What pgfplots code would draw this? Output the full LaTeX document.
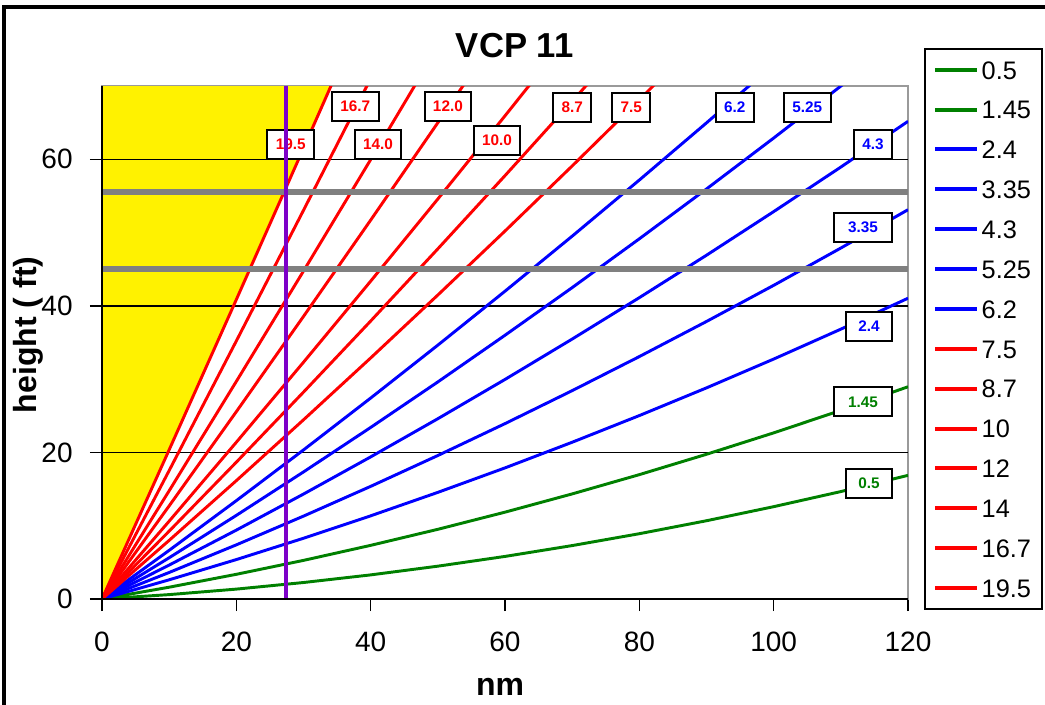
\documentclass[border=0pt]{standalone}
\usepackage{fontspec}
\setmainfont{Liberation Sans}
\usepackage{pgfplots}
\pgfplotsset{compat=1.18}
\definecolor{xlgreen}{RGB}{0,128,0}
\definecolor{xlblue}{RGB}{0,0,255}
\definecolor{xlred}{RGB}{255,0,0}
\definecolor{xlpurple}{RGB}{125,0,200}
\definecolor{xlgray}{RGB}{128,128,128}
\pgfplotsset{
  vcp/.style={line width=2.2pt, no markers, line join=round},
}
\tikzset{
  lbl/.style={draw=black, line width=1.5pt, fill=white, font=\fontsize{11.5}{12}\selectfont\bfseries, minimum width=35pt, minimum height=21.75pt, inner sep=1pt},
}
\begin{document}
\begin{tikzpicture}
\begin{axis}[
  scale only axis, width=604.5pt, height=384.75pt,
  at={(0pt,0pt)}, anchor=south west,
  xmin=0, xmax=120, ymin=0, ymax=70,
  xtick={0,20,...,120}, ytick={0,20,40,60},
  axis line style={xlgray!80, line width=1.2pt},
  xtick pos=bottom, ytick pos=left,
  tick align=outside, major tick length=9pt,
  tick style={black, line width=1.1pt},
  /pgf/number format/assume math mode=true,
  ticklabel style={font=\fontsize{21}{24}\selectfont},
  xticklabel style={yshift=-12pt},
  yticklabel style={xshift=-9.5pt},
  title={VCP 11},
  title style={font=\fontsize{26}{30}\selectfont\bfseries, at={(axis description cs:0.512,1.064)}, anchor=center},
  xlabel={nm},
  xlabel style={font=\fontsize{24}{28}\selectfont\bfseries, at={(axis description cs:0.494,-0.1715)}, anchor=center},
  ylabel={height ( ft)},
  ylabel style={font=\fontsize{24}{28}\selectfont\bfseries, at={(axis description cs:-0.091,0.515)}, anchor=center},
  legend style={at={(axis description cs:1.0199,1.074)}, anchor=north west, draw=black, line width=1.5pt, fill=white,
    font=\fontsize{19}{19}\selectfont, inner xsep=6pt, inner ysep=8.5pt, row sep=15.9pt,
    nodes={inner xsep=2pt, inner ysep=0pt, text height=14pt, text depth=0pt}, cells={anchor=west}},
  legend image code/.code={\draw[#1, line width=3pt] (0pt,0pt) -- (31.5pt,0pt);},
]
% yellow region left of the 19.5 deg beam
\addplot[fill=yellow, draw=none, forget plot] coordinates {
  (0,0) (10,20.36) (20,40.86) (30,61.50) (34.1,70) (0,70)};
% horizontal gridlines
\addplot[black, line width=1pt, forget plot] coordinates {(0,20) (120,20)};
\addplot[black, line width=1pt, forget plot] coordinates {(0,40) (120,40)};
\addplot[black, line width=1pt, forget plot] coordinates {(0,60) (120,60)};

\addplot[vcp, xlgreen] coordinates {(0,0) (10,0.60) (20,1.35) (30,2.25) (40,3.29) (50,4.48) (60,5.81) (70,7.29) (80,8.91) (90,10.68) (100,12.60) (110,14.66) (120,16.87)};
\addlegendentry{0.5}
\addplot[vcp, xlgreen] coordinates {(0,0) (10,1.61) (20,3.37) (30,5.27) (40,7.32) (50,9.51) (60,11.85) (70,14.34) (80,16.97) (90,19.75) (100,22.67) (110,25.74) (120,28.96)};
\addlegendentry{1.45}
\addplot[vcp, xlblue] coordinates {(0,0) (10,2.62) (20,5.38) (30,8.29) (40,11.35) (50,14.55) (60,17.89) (70,21.39) (80,25.03) (90,28.81) (100,32.74) (110,36.82) (120,41.04)};
\addlegendentry{2.4}
\addplot[vcp, xlblue] coordinates {(0,0) (10,3.62) (20,7.39) (30,11.31) (40,15.37) (50,19.58) (60,23.93) (70,28.43) (80,33.08) (90,37.87) (100,42.80) (110,47.89) (120,53.12)};
\addlegendentry{3.35}
\addplot[vcp, xlblue] coordinates {(0,0) (10,4.63) (20,9.40) (30,14.32) (40,19.39) (50,24.60) (60,29.96) (70,35.47) (80,41.12) (90,46.91) (100,52.86) (110,58.94) (120,65.18)};
\addlegendentry{4.3}
\addplot[vcp, xlblue] coordinates {(0,0) (10,5.63) (20,11.41) (30,17.34) (40,23.41) (50,29.62) (60,35.99) (70,42.49) (80,49.15) (90,55.95) (100,62.90) (110,69.99) (120,77.23)};
\addlegendentry{5.25}
\addplot[vcp, xlblue] coordinates {(0,0) (10,6.64) (20,13.42) (30,20.34) (40,27.42) (50,34.64) (60,42.00) (70,49.51) (80,57.17) (90,64.97) (100,72.92)};
\addlegendentry{6.2}
\addplot[vcp, xlred] coordinates {(0,0) (10,8.00) (20,16.15) (30,24.45) (40,32.89) (50,41.48) (60,50.21) (70,59.09) (80,68.12) (90,77.29)};
\addlegendentry{7.5}
\addplot[vcp, xlred] coordinates {(0,0) (10,9.26) (20,18.67) (30,28.23) (40,37.93) (50,47.78) (60,57.77) (70,67.91) (80,78.20)};
\addlegendentry{8.7}
\addplot[vcp, xlred] coordinates {(0,0) (10,10.62) (20,21.39) (30,32.31) (40,43.37) (50,54.58) (60,65.93) (70,77.43)};
\addlegendentry{10}
\addplot[vcp, xlred] coordinates {(0,0) (10,12.71) (20,25.56) (30,38.56) (40,51.70) (50,64.99) (60,78.42)};
\addlegendentry{12}
\addplot[vcp, xlred] coordinates {(0,0) (10,14.77) (20,29.69) (30,44.75) (40,59.96) (50,75.32)};
\addlegendentry{14}
\addplot[vcp, xlred] coordinates {(0,0) (10,17.53) (20,35.21) (30,53.04) (40,71.01)};
\addlegendentry{16.7}
\addplot[vcp, xlred] coordinates {(0,0) (10,20.36) (20,40.86) (30,61.50) (40,82.30)};
\addlegendentry{19.5}

% gray reference levels
\addplot[xlgray, line width=4.5pt, forget plot] coordinates {(0,45) (120,45)};
\addplot[xlgray, line width=4.5pt, forget plot] coordinates {(0,55.5) (120,55.5)};

% data labels
\node[lbl, text=xlred] at (axis cs:28.1,62.0) {19.5};
\node[lbl, text=xlred] at (axis cs:37.7,67.2) {16.7};
\node[lbl, text=xlred] at (axis cs:41.1,62.0) {14.0};
\node[lbl, text=xlred] at (axis cs:51.5,67.2) {12.0};
\node[lbl, text=xlred] at (axis cs:58.8,62.6) {10.0};
\node[lbl, text=xlred, minimum width=28.5pt] at (axis cs:70.0,67.1) {8.7};
\node[lbl, text=xlred, minimum width=28.5pt] at (axis cs:78.8,67.1) {7.5};
\node[lbl, text=xlblue, minimum width=28.5pt] at (axis cs:94.2,67.1) {6.2};
\node[lbl, text=xlblue] at (axis cs:105.0,67.1) {5.25};
\node[lbl, text=xlblue, minimum width=28.5pt] at (axis cs:114.8,62.0) {4.3};
\node[lbl, text=xlblue, minimum width=43.5pt] at (axis cs:113.3,50.7) {3.35};
\node[lbl, text=xlblue] at (axis cs:114.2,37.2) {2.4};
\node[lbl, text=xlgreen, minimum width=43.5pt] at (axis cs:113.3,26.9) {1.45};
\node[lbl, text=xlgreen] at (axis cs:114.2,15.8) {0.5};

% purple range marker
\addplot[xlpurple, line width=3pt, forget plot] coordinates {(27.4,0) (27.4,70)};
\end{axis}
% left and bottom axis lines in black
\draw[black, line width=1.5pt] (0pt,384.75pt) -- (0pt,0pt) -- (604.5pt,0pt);
% outer chart frame
\draw[line width=2.5pt] (-73.5pt,-90pt) -- (-73.5pt,444pt) -- (720pt,444pt);
\pgfresetboundingbox
\path[use as bounding box] (-76.5pt,-78.75pt) rectangle (707.25pt,449.25pt);
\end{tikzpicture}
\end{document}
